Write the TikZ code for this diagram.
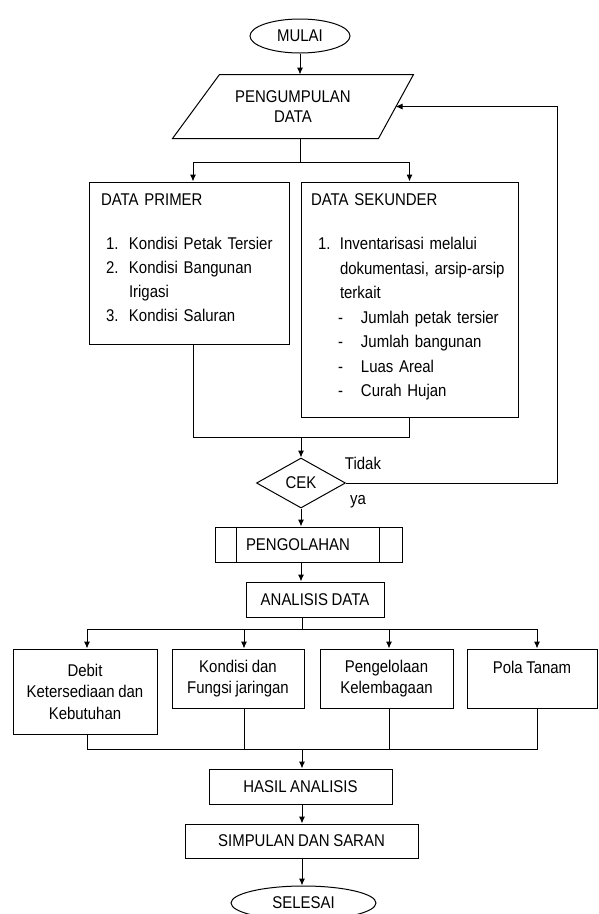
\documentclass[tikz,border=0pt]{standalone}
\usepackage{fontspec}
\setmainfont{Liberation Sans}[FakeStretch=0.88, WordSpace=0.85]
\usetikzlibrary{shapes.geometric, arrows.meta}
\tikzstyle{terminal} = [ellipse, draw=black, minimum height=34pt, inner sep=0pt]
\tikzstyle{io_block} = [rectangle, minimum width=240pt, minimum height=63pt, align=center, inner sep=0pt, font=\fontsize{17}{20}\selectfont]
\tikzstyle{block} = [rectangle, draw=black, align=center, inner sep=0pt]
\tikzstyle{list_block} = [rectangle, draw=black, align=left]
\tikzstyle{decision} = [diamond, draw=black, minimum width=89pt, minimum height=50pt, inner sep=0pt]
\tikzstyle{arrow} = [-{Latex[length=7pt,width=6pt]}]

\begin{document}
\begin{tikzpicture}[x=1pt, y=-1pt, line width=1pt, every node/.style={font=\fontsize{17}{21.5}\selectfont}]
		\useasboundingbox (0,0) rectangle (598,914);
		%\node (judul) [title] {Diagram Alir};
		\node (mulai) [terminal, minimum width=100pt] at (300,36) {MULAI};
		\node (kumpul) [io_block] at (293,106.5) {PENGUMPULAN\\DATA};
		\node (primer) [list_block, minimum width=200pt, minimum height=162pt, text width=176pt, inner xsep=12pt, font=\fontsize{17}{24}\selectfont] at (189,263) {DATA PRIMER\\[20pt]
			\hspace*{5pt}\makebox[23pt][l]{1.}Kondisi Petak Tersier\\
			\hspace*{5pt}\makebox[23pt][l]{2.}Kondisi Bangunan\\
			\hspace*{28pt}Irigasi\\
			\hspace*{5pt}\makebox[23pt][l]{3.}Kondisi Saluran\rule[-10pt]{0pt}{10pt}};
		\node (sekunder) [list_block, minimum width=217pt, minimum height=235pt, text width=197pt, inner xsep=10pt, font=\fontsize{17}{24.5}\selectfont] at (409.5,299.5) {DATA SEKUNDER\\[19.5pt]
			\hspace*{7pt}\makebox[22pt][l]{1.}Inventarisasi melalui\\
			\hspace*{29pt}\mbox{dokumentasi, arsip-arsip}\\
			\hspace*{29pt}terkait\\
			\hspace*{27pt}\makebox[23pt][l]{-}Jumlah petak tersier\\
			\hspace*{27pt}\makebox[23pt][l]{-}Jumlah bangunan\\
			\hspace*{27pt}\makebox[23pt][l]{-}Luas Areal\\
			\hspace*{27pt}\makebox[23pt][l]{-}Curah Hujan\rule[-8pt]{0pt}{8pt}};
		\node (cek) [decision] at (301,483) {CEK};
		\node (tidak) at (363,463) {Tidak};
		\node (ya) at (358,502) {ya};
		\node (olah) [block, minimum width=187pt, minimum height=35pt, text width=125pt, inner xsep=31pt, align=left] at (308.5,544.5) {PENGOLAHAN};
		\node (analisis) [block, minimum width=138pt, minimum height=35pt] at (315,599.5) {ANALISIS DATA};
		\node (debit) [block, minimum width=144pt, minimum height=85pt] at (85,691.5) {Debit\\Ketersediaan dan\\Kebutuhan};
		\node (fungsi) [block, minimum width=132pt, minimum height=59pt] at (238,678.5) {Kondisi dan\\Fungsi jaringan};
		\node (lembaga) [block, minimum width=133pt, minimum height=59pt] at (386.5,678.5) {Pengelolaan\\Kelembagaan};
		\node (pola) [block, minimum width=130pt, minimum height=59pt] at (532,678.5) {Pola Tanam\rule[-21.5pt]{0pt}{0pt}};
		\node (hasil) [block, minimum width=183pt, minimum height=35pt] at (300.5,786.5) {HASIL ANALISIS};
		\node (simpulan) [block, minimum width=233pt, minimum height=34pt] at (301.5,841) {SIMPULAN DAN SARAN};
		\node (selesai) [terminal, minimum width=145pt] at (303.5,903) {SELESAI};

		% jajaran genjang data
		\draw ([xshift=47pt]kumpul.north west) -- (kumpul.north east) -- ([xshift=-35pt]kumpul.south east) -- (kumpul.south west) -- cycle;
		% garis proses
		\draw ([xshift=22pt]olah.north west) -- ([xshift=22pt]olah.south west);
		\draw ([xshift=-23pt]olah.north east) -- ([xshift=-23pt]olah.south east);

		\coordinate (cab1) at (300,162);
		\coordinate (gab1) at (301,437);
		\coordinate (balik) at (557,483);
		\coordinate (cab2) at (302,629);
		\coordinate (gab2) at (302,749);

		\draw [arrow] (mulai) -- (mulai |- kumpul.north);
		\draw (kumpul.south -| cab1) -- (cab1);
		\draw [arrow] (cab1) -| ([xshift=4pt]primer.north);
		\draw [arrow] (cab1) -| (sekunder.north);
		\draw ([xshift=4pt]primer.south) |- (gab1);
		\draw (sekunder.south) |- (gab1);
		\draw [arrow] (gab1) -- (cek);
		\draw [arrow] (cek.east) -- (balik) |- ([xshift=-18pt]kumpul.east);
		\draw [arrow] (cek) -- (cek |- olah.north);
		\draw [arrow] (olah.south -| cek) -- (analisis.north -| cek);
		\draw (analisis.south -| cab2) -- (cab2);
		\draw [arrow] (cab2) -| ([xshift=2pt]debit.north);
		\draw [arrow] (cab2) -| ([xshift=6pt]fungsi.north);
		\draw [arrow] (cab2) -| ([xshift=2.5pt]lembaga.north);
		\draw [arrow] (cab2) -| ([xshift=5pt]pola.north);
		\draw ([xshift=2pt]debit.south) |- (gab2);
		\draw ([xshift=6pt]fungsi.south) -- ([xshift=6pt]fungsi.south |- gab2);
		\draw ([xshift=2.5pt]lembaga.south) -- ([xshift=2.5pt]lembaga.south |- gab2);
		\draw ([xshift=5pt]pola.south) |- (gab2);
		\draw [arrow] (gab2) -- (gab2 |- hasil.north);
		\draw [arrow] (hasil.south -| gab2) -- (simpulan.north -| gab2);
		\draw [arrow] (simpulan.south -| gab2) -- (selesai.north -| gab2);

\end{tikzpicture}
\end{document}
